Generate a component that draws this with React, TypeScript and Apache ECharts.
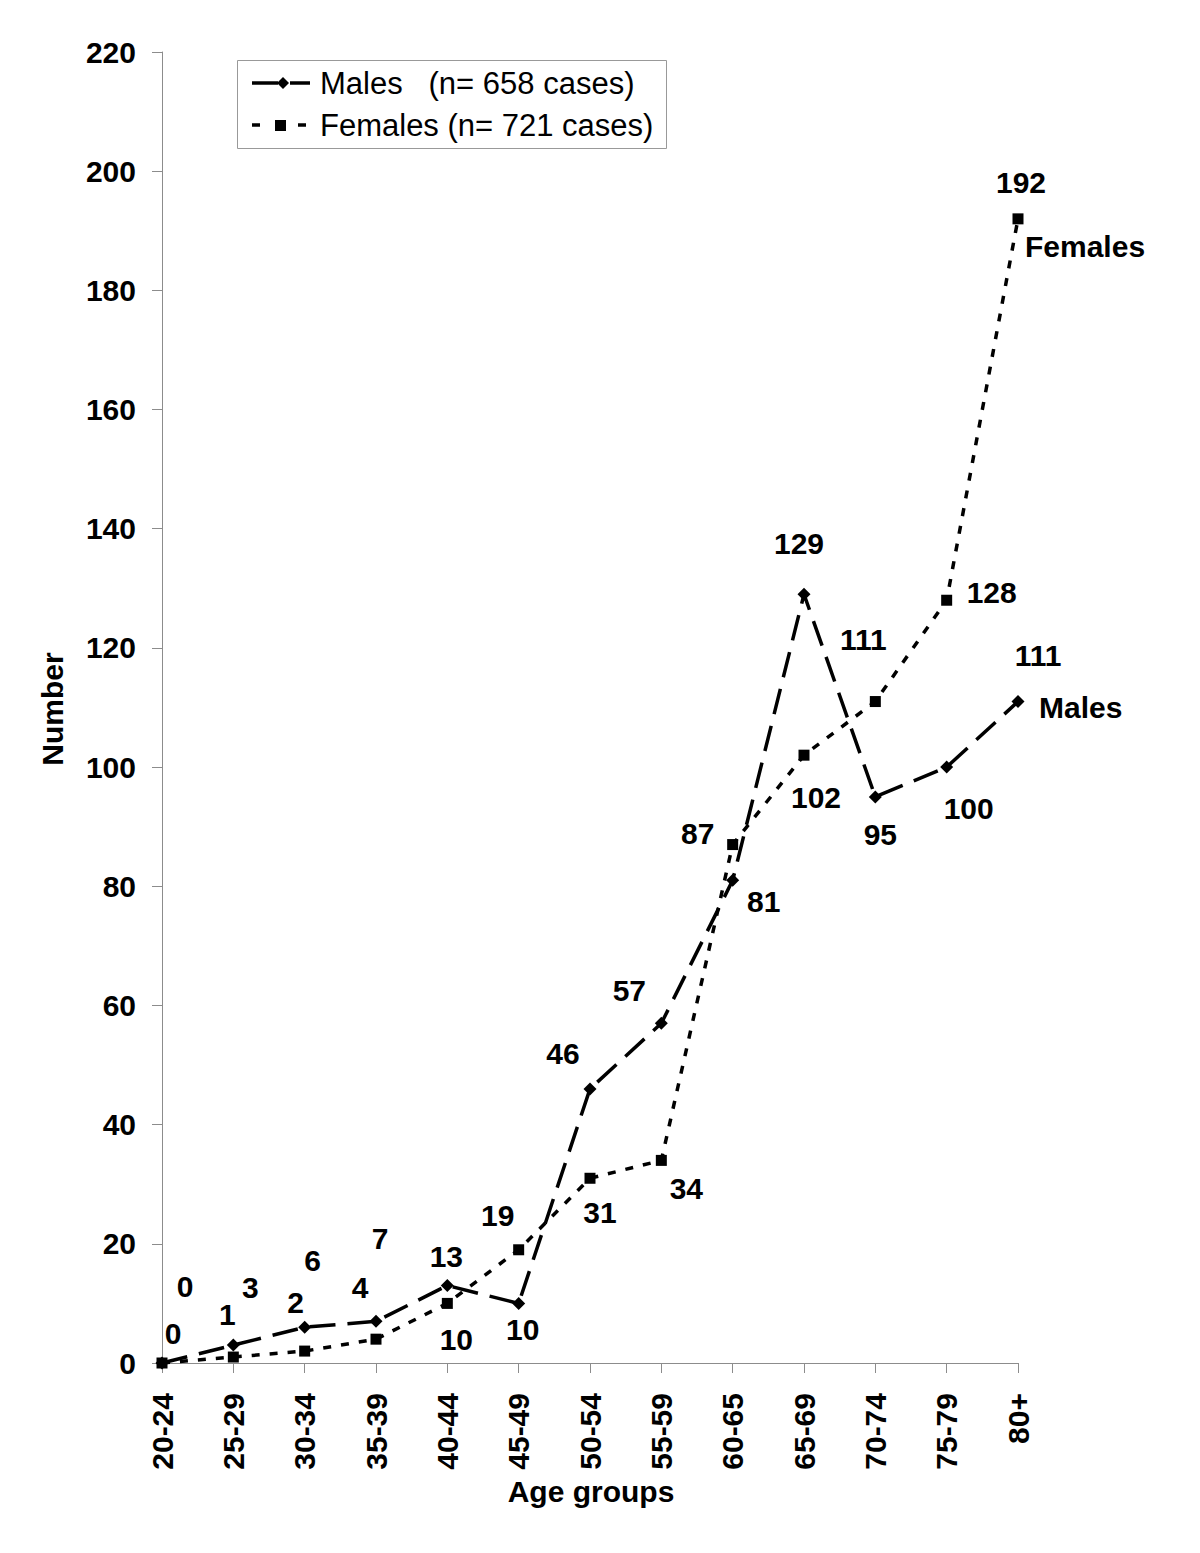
import React, { useEffect, useRef } from "react";
import * as echarts from "echarts";

const categories = ["20-24", "25-29", "30-34", "35-39", "40-44", "45-49", "50-54", "55-59", "60-65", "65-69", "70-74", "75-79", "80+"];
const malesValues = [0, 3, 6, 7, 13, 10, 46, 57, 81, 129, 95, 100, 111];
const femalesValues = [0, 1, 2, 4, 10, 19, 31, 34, 87, 102, 111, 128, 192];
const seriesNames = ["Males", "Females"];
const legendTexts = ["Males   (n= 658 cases)", "Females (n= 721 cases)"];
const yAxisTitle = "Number";
const xAxisTitle = "Age groups";
const yMin = 0;
const yMax = 220;
const yInterval = 20;

// layout: label offsets (px) relative to each point
const maleLabelOffsets = [[23, -77], [17, -58], [8, -67], [4, -83], [-1, -29], [4, 26], [-27, -35], [-32, -33], [31, 21], [-5, -51], [5, 38], [22, 41], [20, -46]];
const femaleLabelOffsets = [[11, -30], [-6, -43], [-9, -49], [-16, -52], [9, 36], [-21, -34], [10, 34], [25, 28], [-35, -11], [12, 42], [-12, -62], [45, -8], [3, -36]];

const FONT = "'Liberation Sans', Arial, Helvetica, sans-serif";
const labelStyle = { fontSize: 30, fontWeight: "bold" as const, color: "#000", fontFamily: FONT };

export default function App() {
  const ref = useRef<HTMLDivElement>(null);
  useEffect(() => {
    if (!ref.current) return;
    const chart = echarts.init(ref.current, undefined, { renderer: "svg" });
    const last = categories.length - 1;
    const mkData = (vals: number[], offs: number[][]) =>
      vals.map((v, i) => ({ value: v, label: { offset: offs[i] } }));

    const option: any = {
      animation: false,
      backgroundColor: "#fff",
      grid: { left: 162, right: 182, top: 52, bottom: 190, containLabel: false },
      xAxis: {
        type: "category",
        data: categories,
        boundaryGap: false,
        axisLine: { show: true, lineStyle: { color: "#8c8c8c", width: 1 } },
        axisTick: { show: true, length: 10, lineStyle: { color: "#8c8c8c" } },
        axisLabel: { rotate: 90, margin: 30, interval: 0, ...labelStyle },
        splitLine: { show: false },
      },
      yAxis: {
        type: "value",
        min: yMin,
        max: yMax,
        interval: yInterval,
        axisLine: { show: true, lineStyle: { color: "#8c8c8c", width: 1 } },
        axisTick: { show: true, length: 10, lineStyle: { color: "#8c8c8c" } },
        axisLabel: { margin: 26, ...labelStyle },
        splitLine: { show: false },
      },
      series: [
        {
          name: seriesNames[1],
          type: "line",
          data: mkData(femalesValues, femaleLabelOffsets),
          clip: false,
          symbol: "rect",
          symbolSize: 11,
          itemStyle: { color: "#000" },
          lineStyle: { color: "#000", width: 3.5, type: [8, 10] },
          label: { show: true, position: "inside", ...labelStyle },
          z: 2,
        },
        {
          name: seriesNames[0],
          type: "line",
          data: mkData(malesValues, maleLabelOffsets),
          clip: false,
          symbol: "diamond",
          symbolSize: 13,
          itemStyle: { color: "#000" },
          lineStyle: { color: "#000", width: 3.5, type: [26, 12] },
          label: { show: true, position: "inside", ...labelStyle },
          z: 3,
        },
        {
          name: "femalesName",
          type: "scatter",
          data: [[categories[last], femalesValues[last]]],
          symbolSize: 2,
          itemStyle: { color: "#fff", opacity: 1 },
          silent: true,
          clip: false,
          label: { show: true, position: "right", distance: 0, offset: [6, 28], formatter: seriesNames[1], ...labelStyle },
          z: 1,
        },
        {
          name: "malesName",
          type: "scatter",
          data: [[categories[last], malesValues[last]]],
          symbolSize: 2,
          itemStyle: { color: "#fff", opacity: 1 },
          silent: true,
          clip: false,
          label: { show: true, position: "right", distance: 0, offset: [20, 6], formatter: seriesNames[0], ...labelStyle },
          z: 1,
        },
      ],
      graphic: [
        {
          type: "text",
          x: 52,
          y: 709,
          rotation: Math.PI / 2,
          style: { text: yAxisTitle, align: "center", verticalAlign: "middle", fontSize: 30, fontWeight: "bold", fill: "#000", fontFamily: FONT },
        },
        {
          type: "text",
          x: 591,
          y: 1491,
          style: { text: xAxisTitle, align: "center", verticalAlign: "middle", fontSize: 30, fontWeight: "bold", fill: "#000", fontFamily: FONT },
        },
        {
          type: "group",
          children: [
            { type: "rect", shape: { x: 237.5, y: 60.5, width: 429, height: 88 }, style: { fill: "#fff", stroke: "#999", lineWidth: 1 } },
            { type: "line", shape: { x1: 252, y1: 83, x2: 278, y2: 83 }, style: { stroke: "#000", lineWidth: 3.5 } },
            { type: "polygon", shape: { points: [[283, 77], [289, 83], [283, 89], [277, 83]] }, style: { fill: "#000" } },
            { type: "line", shape: { x1: 290, y1: 83, x2: 310, y2: 83 }, style: { stroke: "#000", lineWidth: 3.5 } },
            { type: "text", x: 320, y: 83, style: { text: legendTexts[0], verticalAlign: "middle", fontSize: 31, fill: "#000", fontFamily: FONT } },
            { type: "line", shape: { x1: 252, y1: 125, x2: 260, y2: 125 }, style: { stroke: "#000", lineWidth: 3.5 } },
            { type: "rect", shape: { x: 275, y: 120, width: 11, height: 11 }, style: { fill: "#000" } },
            { type: "line", shape: { x1: 298, y1: 125, x2: 306, y2: 125 }, style: { stroke: "#000", lineWidth: 3.5 } },
            { type: "text", x: 320, y: 125, style: { text: legendTexts[1], verticalAlign: "middle", fontSize: 31, fill: "#000", fontFamily: FONT } },
          ],
        },
      ],
    };
    chart.setOption(option);
    return () => chart.dispose();
  }, []);
  return <div ref={ref} style={{ position: "fixed", left: 0, top: 0, width: 1200, height: 1553 }} />;
}
